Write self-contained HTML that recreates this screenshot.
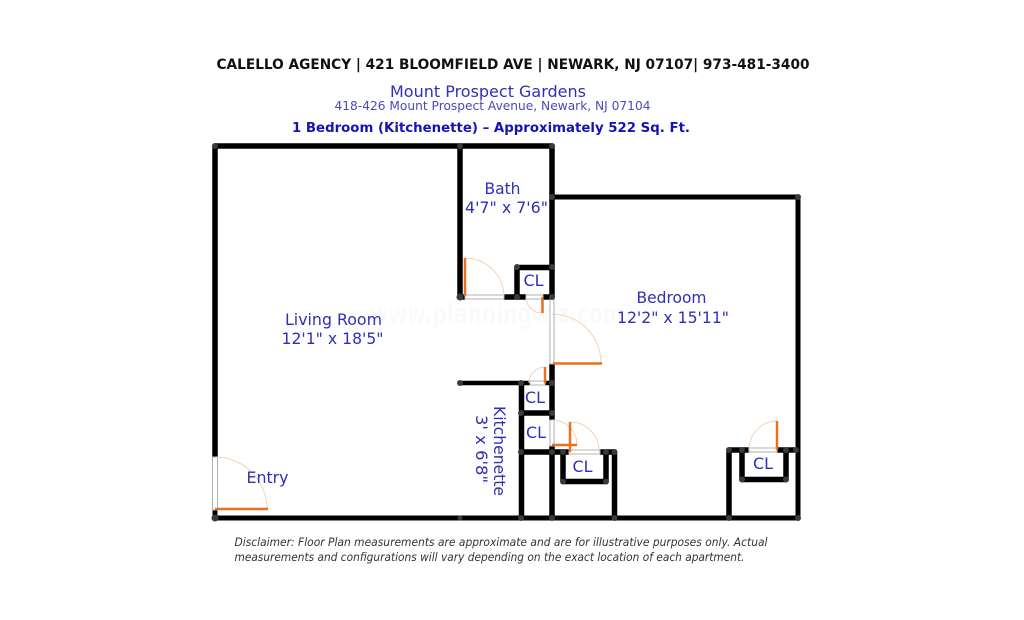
<!DOCTYPE html>
<html><head><meta charset="utf-8"><style>
html,body{margin:0;padding:0;background:#fff;width:1024px;height:620px;overflow:hidden}
svg{display:block}
text{font-family:"DejaVu Sans","Liberation Sans",sans-serif}
.r{fill:#2f2fb8;font-size:15.800px}
.t{stroke:#000;stroke-width:5.500;fill:none;stroke-linejoin:round}
.o{stroke:#e8701f;stroke-width:2.500;fill:none}
.a{stroke:#f0d2b8;stroke-width:1;fill:none}
.g{stroke:#b0b0b0;stroke-width:1;fill:#fff}
.n{fill:#3a3a3a}
</style></head><body>
<svg width="1024" height="620" viewBox="0 0 1024 620" xmlns="http://www.w3.org/2000/svg">
<rect width="1024" height="620" fill="#fff"/>
<text x="513" y="69" text-anchor="middle" font-size="14" font-weight="700" fill="#111" textLength="593" lengthAdjust="spacingAndGlyphs">CALELLO AGENCY | 421 BLOOMFIELD AVE | NEWARK, NJ 07107| 973-481-3400</text>
<text x="488" y="97" text-anchor="middle" font-size="15.800" fill="#2f2fb8" textLength="196" lengthAdjust="spacingAndGlyphs">Mount Prospect Gardens</text>
<text x="492.500" y="110" text-anchor="middle" font-size="12.200" fill="#4a4ab8" textLength="316" lengthAdjust="spacingAndGlyphs">418-426 Mount Prospect Avenue, Newark, NJ 07104</text>
<text x="491" y="132" text-anchor="middle" font-size="13.500" font-weight="700" fill="#1414b4" textLength="398" lengthAdjust="spacingAndGlyphs">1 Bedroom (Kitchenette) – Approximately 522 Sq. Ft.</text>

<text x="497" y="323" text-anchor="middle" font-size="28" font-weight="700" fill="#fafafa" textLength="254" lengthAdjust="spacingAndGlyphs">www.planningwiz.com</text>

<!-- walls -->
<g class="t">
<path d="M215 457V146H552V297"/>
<path d="M552 197H798V518H215V510" stroke-width="5"/>
<path d="M460 146V297"/>
<path d="M460 297H465M504 297H526M543 297H552"/>
<path d="M517 297V267.500H552"/>
<path d="M552 364V420M552 446V518"/>
<path d="M460 383H530M545 383H552" stroke-width="4.500"/>
<path d="M521.500 383V518"/>
<path d="M521 413H552"/>
<path d="M521 452H569M600 452H614.500V518"/>
<path d="M563 452V481.500H606V452"/>
<path d="M729 518V450H749M777 450H798"/>
<path d="M742 450V479.500H786V450"/>
</g>
<!-- door openings -->
<g class="g">
<rect x="212.500" y="457" width="5" height="53"/>
<rect x="465" y="295" width="39" height="4"/>
<rect x="526" y="295" width="17" height="4"/>
<rect x="550" y="297" width="4" height="67"/>
<rect x="530" y="381" width="15" height="4"/>
<rect x="550" y="420" width="4" height="26"/>
<rect x="569" y="450" width="31" height="4"/>
<rect x="749" y="448" width="28" height="4"/>
</g>
<!-- door arcs -->
<g class="a">
<path d="M215 457A52 52 0 0 1 267 509"/>
<path d="M465 258A39 39 0 0 1 504 296"/>
<path d="M526 297A16 16 0 0 0 542 313"/>
<path d="M552 314A49 49 0 0 1 601 363"/>
<path d="M529 383A16 16 0 0 1 545 367"/>
<path d="M552 420A25 25 0 0 1 577 445"/>
<path d="M570 422A29 29 0 0 1 599 452"/>
<path d="M749 450A28 29 0 0 1 777 421"/>
</g>
<!-- door leaves -->
<g class="o">
<path d="M215 509H268"/>
<path d="M465 258V296"/>
<path d="M542.500 297V313"/>
<path d="M553 363.500H602"/>
<path d="M545 367V383"/>
<path d="M552 445H577"/>
<path d="M570 422V452"/>
<path d="M777 421V450"/>
</g>
<!-- nodes -->
<g class="n">
<circle cx="215" cy="146" r="3"/><circle cx="460" cy="146" r="3"/><circle cx="552" cy="146" r="3"/>
<circle cx="552" cy="197" r="3"/><circle cx="798" cy="197" r="3"/><circle cx="798" cy="518" r="3"/>
<circle cx="215" cy="518" r="3.500"/><circle cx="460" cy="518" r="2.500"/><circle cx="521" cy="518" r="3"/><circle cx="552" cy="518" r="3"/>
<circle cx="614.500" cy="518" r="3"/><circle cx="729" cy="518" r="3"/>
<circle cx="460" cy="297" r="3.500"/><circle cx="517" cy="297" r="3"/><circle cx="552" cy="297" r="3"/>
<circle cx="517" cy="267" r="3"/><circle cx="552" cy="267" r="3"/>
<circle cx="460" cy="383" r="3"/><circle cx="521" cy="383" r="3"/><circle cx="552" cy="383" r="3"/>
<circle cx="521" cy="413" r="3"/><circle cx="552" cy="413" r="3"/>
<circle cx="521" cy="452" r="3"/><circle cx="552" cy="452" r="3"/>
<circle cx="563" cy="452" r="3"/><circle cx="606" cy="452" r="3"/><circle cx="614.500" cy="452" r="3"/>
<circle cx="563" cy="481.500" r="3"/><circle cx="606" cy="481.500" r="3"/>
<circle cx="729" cy="450" r="3"/><circle cx="742" cy="450" r="3"/><circle cx="786" cy="450" r="3"/><circle cx="796" cy="450" r="3"/>
<circle cx="742" cy="479.500" r="3"/><circle cx="786" cy="479.500" r="3"/>
</g>
<!-- labels -->
<g class="r" text-anchor="middle">
<text x="502.500" y="194" textLength="36" lengthAdjust="spacingAndGlyphs">Bath</text>
<text x="506.500" y="213" textLength="83" lengthAdjust="spacingAndGlyphs">4'7" x 7'6"</text>
<text x="333.500" y="325" textLength="97" lengthAdjust="spacingAndGlyphs">Living Room</text>
<text x="332.500" y="344" textLength="102" lengthAdjust="spacingAndGlyphs">12'1" x 18'5"</text>
<text x="671.500" y="303" textLength="70" lengthAdjust="spacingAndGlyphs">Bedroom</text>
<text x="673" y="323" textLength="112" lengthAdjust="spacingAndGlyphs">12'2" x 15'11"</text>
<text x="267.500" y="483" textLength="42" lengthAdjust="spacingAndGlyphs">Entry</text>
<text x="533.500" y="286" textLength="20" lengthAdjust="spacingAndGlyphs">CL</text>
<text x="535" y="403" textLength="20" lengthAdjust="spacingAndGlyphs">CL</text>
<text x="536" y="438" textLength="20" lengthAdjust="spacingAndGlyphs">CL</text>
<text x="582.500" y="472" textLength="20" lengthAdjust="spacingAndGlyphs">CL</text>
<text x="763" y="469" textLength="20" lengthAdjust="spacingAndGlyphs">CL</text>
<text transform="translate(494 451) rotate(90)" textLength="90" lengthAdjust="spacingAndGlyphs">Kitchenette</text>
<text transform="translate(476 449) rotate(90)" textLength="68" lengthAdjust="spacingAndGlyphs">3' x 6'8"</text>
</g>
<g font-size="11.500" font-style="italic" fill="#333">
<text x="234.500" y="546" textLength="533" lengthAdjust="spacingAndGlyphs">Disclaimer: Floor Plan measurements are approximate and are for illustrative purposes only. Actual</text>
<text x="234.500" y="561" textLength="510" lengthAdjust="spacingAndGlyphs">measurements and configurations will vary depending on the exact location of each apartment.</text>
</g>
</svg>
</body></html>
